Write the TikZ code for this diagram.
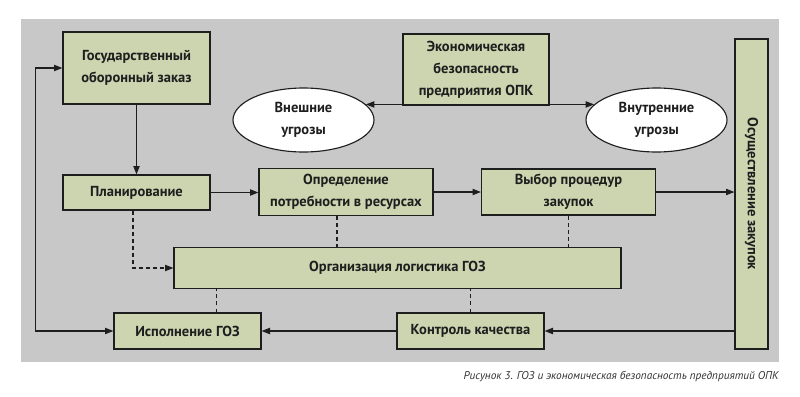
\documentclass[tikz,border=0pt]{standalone}
\usepackage{fontspec}
\setmainfont{PT Sans}
\usetikzlibrary{arrows.meta,positioning,shapes,calc}
\definecolor{gozBack}{RGB}{200, 200, 200}
\definecolor{gozBox}{RGB}{204, 212, 176}
\definecolor{gozLine}{RGB}{30, 30, 30}
\definecolor{gozNote}{RGB}{50, 50, 50}

\tikzset{
    block/.style={draw=gozLine, fill=gozBox, line width=0.8pt, align=center,
        inner sep=0pt, font=\bfseries\fontsize{10.3}{15.5}\selectfont, text=gozLine},
    threat/.style={block, ellipse, fill=white},
    arr/.style={draw=gozLine, line width=0.8pt, -{Triangle[length=6pt,width=4.5pt]}},
    arrboth/.style={draw=gozLine, line width=0.8pt,
        {Triangle[length=6pt,width=4.5pt]}-{Triangle[length=6pt,width=4.5pt]}},
    dline/.style={draw=gozLine, line width=0.8pt, dash pattern=on 2.8pt off 2.2pt}
}

\begin{document}
\begin{tikzpicture}[x=0.025cm, y=-0.025cm, line cap=butt, line join=miter]
    \useasboundingbox (0,0) rectangle (800,396);
    \fill[gozBack] (21,19) rectangle (779,362);

    % upper part
    \node[block, minimum width=147*0.025cm, minimum height=72*0.025cm] (goz) at (136.5,68)
        {Государственный\\оборонный заказ};
    \node[block, minimum width=146*0.025cm, minimum height=71*0.025cm] (econ) at (476,69.5)
        {Экономическая\\безопасность\\предприятия ОПК};
    \node[threat, minimum width=141*0.025cm, minimum height=64*0.025cm] (ext) at (303.5,120)
        {Внешние\\угрозы};
    \node[threat, minimum width=141*0.025cm, minimum height=64*0.025cm] (int) at (656.5,120)
        {Внутренние\\угрозы};
    \node[block, minimum width=310*0.025cm, minimum height=33*0.025cm, rotate=-90] (osu) at (751.5,194)
        {Осуществление закупок};

    % middle row
    \node[block, minimum width=147*0.025cm, minimum height=35*0.025cm] (plan) at (136.5,192.5)
        {Планирование};
    \node[block, minimum width=174*0.025cm, minimum height=47*0.025cm] (need) at (346,192)
        {Определение\\потребности в ресурсах};
    \node[block, minimum width=174*0.025cm, minimum height=46*0.025cm] (choice) at (568.5,192)
        {Выбор процедур\\закупок};
    \node[block, minimum width=447*0.025cm, minimum height=41*0.025cm] (org) at (397.5,268)
        {Организация логистика ГОЗ};

    % lower row
    \node[block, minimum width=147*0.025cm, minimum height=36*0.025cm] (exec) at (187.5,331)
        {Исполнение ГОЗ};
    \node[block, minimum width=147*0.025cm, minimum height=36*0.025cm] (ctrl) at (470.5,331)
        {Контроль качества};

    \node[anchor=east, inner sep=0pt, text=gozNote, font=\itshape\fontsize{8}{10}\selectfont] (note) at (779,377)
        {Рисунок 3. ГОЗ и экономическая безопасность предприятий ОПК};

    % connectors
    \draw[arr] (goz) -- (plan);
    \draw[arr] (plan.east) -- (plan.east -| need.west);
    \draw[arr] (need.east |- choice.west) -- (choice.west);
    \draw[arr] (choice.east) -- (choice.east -| osu.south);
    \draw[arrboth] (ext.14) -- (int.166);
    \draw[arrboth] (exec.west) -- ++(-78,0) |- (goz.west);
    \draw[arr] (ctrl) -- (exec);
    \draw[arr] (osu.south |- ctrl.east) -- (ctrl.east);

    \coordinate (dplan) at ($(plan.south)+(-3.5,0)$);
    \coordinate (dneed) at ($(need.south)+(-9,0)$);
    \coordinate (dexec) at ($(exec.north)+(29,0)$);
    \draw[dline, -{Triangle[length=6pt,width=4.5pt]}] (dplan) |- (org.west);
    \draw[dline] (dneed) -- (dneed |- org.north);
    \draw[dline] (choice.south) -- (choice.south |- org.north);
    \draw[dline] (dexec) -- (dexec |- org.south);
    \draw[dline] (ctrl.north) -- (ctrl.north |- org.south);
\end{tikzpicture}
\end{document}
